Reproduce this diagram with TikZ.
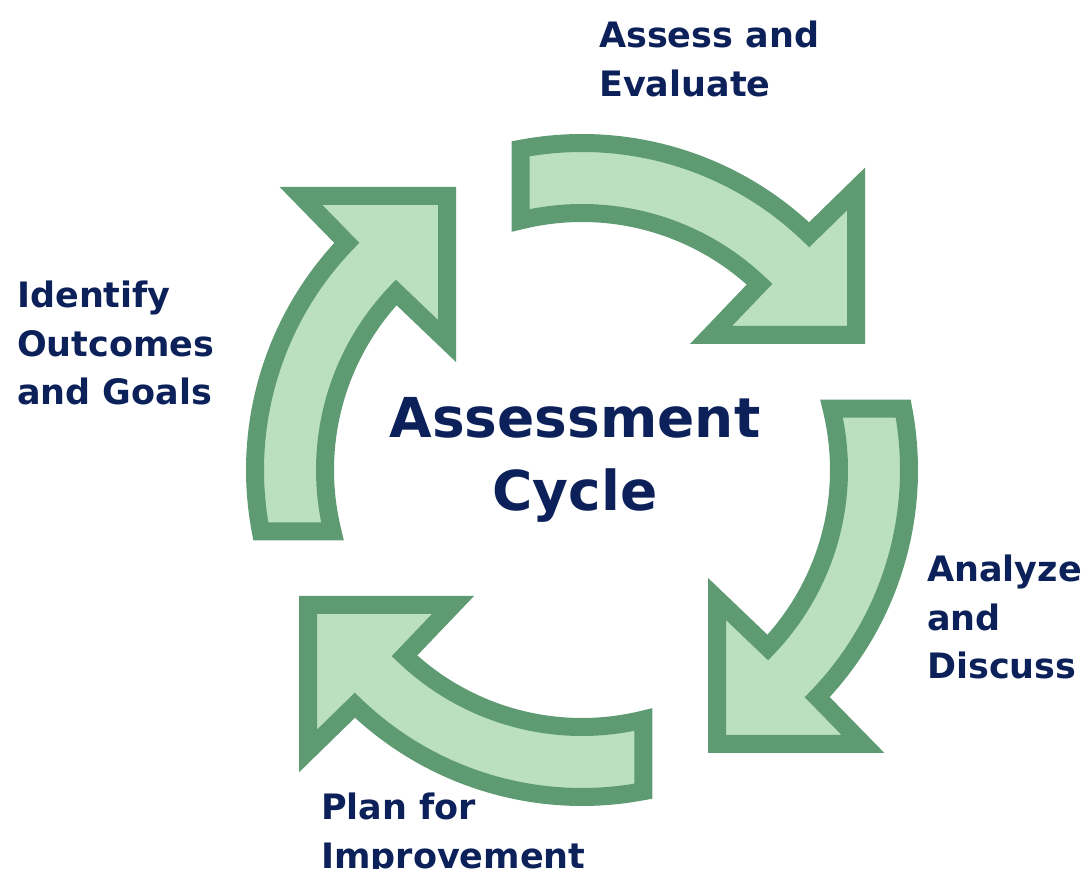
\documentclass[tikz,border=0pt]{standalone}
\usepackage{fontspec}
\setmainfont{DejaVu Sans}
\usepackage{tikz}
\usetikzlibrary{arrows.meta}

\definecolor{cyclefill}{HTML}{BBE0BF}
\definecolor{cycleline}{HTML}{5E9B73}
\definecolor{cyclenavy}{HTML}{0C2159}

\begin{document}
\begin{tikzpicture}[x=1pt,y=1pt,
    cyclearrow/.style={draw=cycleline, fill=cyclefill, line width=18pt, line join=miter},
    steptext/.style={anchor=north west, inner sep=0pt, align=left, text=cyclenavy,
      font=\fontsize{35}{48.5}\selectfont\bfseries}]
    \useasboundingbox (0,0) rectangle (1086,869);
    \coordinate (ctr) at (582,399);
    % four arrows, one shape turned clockwise
    \foreach \ang in {0,-90,-180,-270}{
        \begin{scope}[shift={(ctr)}, rotate=\ang]
            \draw[cyclearrow] (100.8:327pt) arc[start angle=100.8, end angle=46, radius=327pt]
                -- (274,281) -- (274,135) -- (129,135)
                -- (46.3:257pt) arc[start angle=46.3, end angle=103.8, radius=257pt] -- cycle;
        \end{scope}
    }
    \node[align=center, text=cyclenavy, inner sep=0pt,
          font=\fontsize{55}{73}\selectfont\bfseries] (title) at (575,409) {Assessment\\Cycle};
    \node[steptext] (assess) at (599,848) {Assess and\\Evaluate};
    \node[steptext] (analyze) at (927,314) {Analyze\\and\\Discuss};
    \node[steptext] (plan) at (321,76) {Plan for\\Improvement};
    \node[steptext] (identify) at (17,588) {Identify\\Outcomes\\and Goals};
\end{tikzpicture}
\end{document}
